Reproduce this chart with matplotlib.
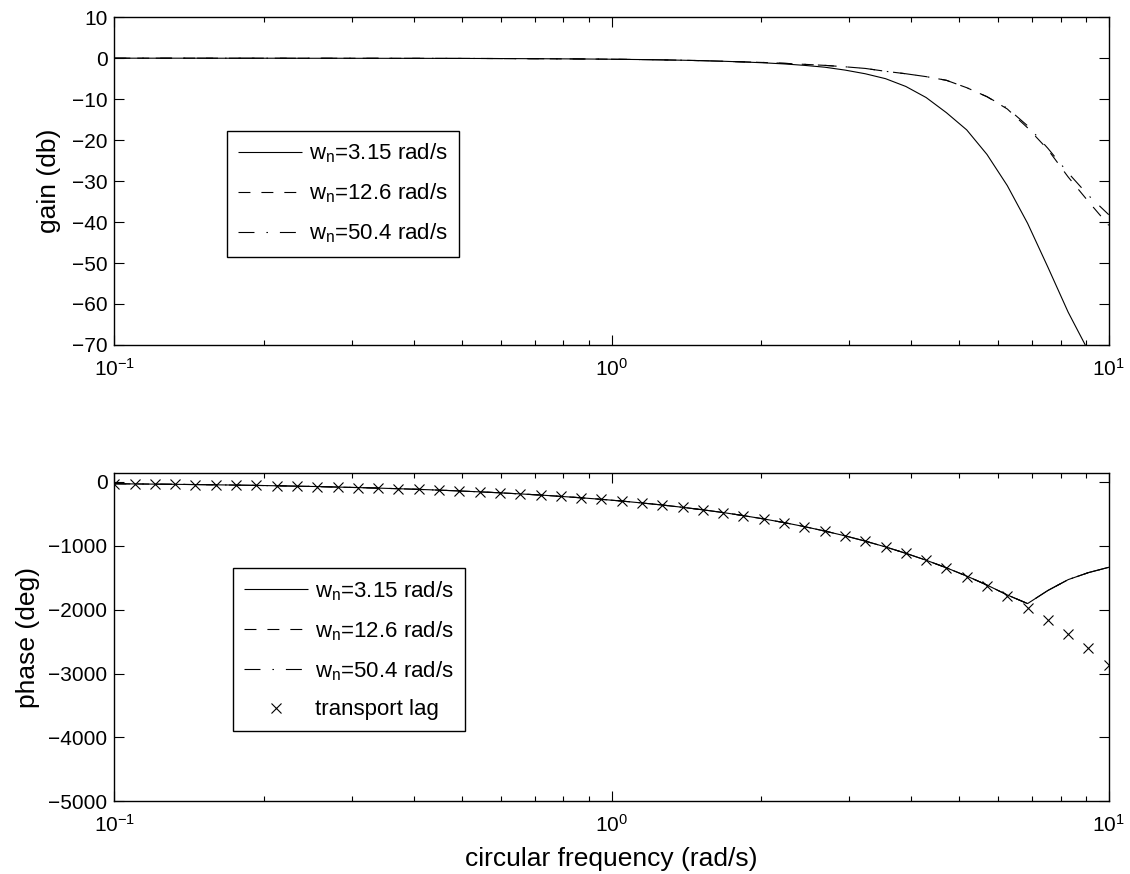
#!/usr/bin/env python

"""
Bode plot of the second order system for three natural frequencies,
phase compared with a pure transport lag.
"""

import matplotlib
matplotlib.use('Agg')
import matplotlib.pyplot as plt

# frequency grid (rad/s), 50 log spaced points
freq = [0.1000, 0.1099, 0.1207, 0.1326, 0.1456, 0.1600, 0.1758, 0.1931,
        0.2121, 0.2330, 0.2560, 0.2812, 0.3089, 0.3393, 0.3728, 0.4095,
        0.4498, 0.4942, 0.5429, 0.5964, 0.6551, 0.7197, 0.7906, 0.8685,
        0.9541, 1.0481, 1.1514, 1.2649, 1.3895, 1.5264, 1.6768, 1.8421,
        2.0236, 2.2230, 2.4421, 2.6827, 2.9471, 3.2375, 3.5565, 3.9069,
        4.2919, 4.7149, 5.1795, 5.6899, 6.2506, 6.8665, 7.5431, 8.2864,
        9.1030, 10.000]

# gain (db)
gain_315 = [0.0, 0.0, 0.0, 0.0, 0.0, -0.01, -0.01, -0.01,
            -0.01, -0.02, -0.02, -0.02, -0.03, -0.03, -0.04, -0.04,
            -0.05, -0.06, -0.07, -0.09, -0.11, -0.13, -0.16, -0.19,
            -0.23, -0.28, -0.34, -0.41, -0.50, -0.61, -0.75, -0.92,
            -1.13, -1.40, -1.75, -2.2, -2.9, -3.8, -5.0, -6.9,
            -9.6, -13.3, -17.5, -23.5, -31.1, -40.3, -51.0, -62.0,
            -71.5, -84.0]
gain_126 = [0.0, 0.0, 0.0, 0.0, 0.0, -0.01, -0.01, -0.01,
            -0.01, -0.02, -0.02, -0.02, -0.03, -0.03, -0.04, -0.04,
            -0.05, -0.06, -0.07, -0.09, -0.11, -0.13, -0.16, -0.19,
            -0.23, -0.28, -0.34, -0.41, -0.50, -0.61, -0.75, -0.90,
            -1.05, -1.25, -1.5, -1.75, -2.1, -2.5, -3.2, -3.8,
            -4.5, -5.4, -7.2, -9.4, -12.4, -17.0, -22.3, -29.0,
            -35.0, -40.8]
gain_504 = [0.0, 0.0, 0.0, 0.0, 0.0, -0.01, -0.01, -0.01,
            -0.01, -0.02, -0.02, -0.02, -0.03, -0.03, -0.04, -0.04,
            -0.05, -0.06, -0.07, -0.09, -0.11, -0.13, -0.16, -0.19,
            -0.23, -0.28, -0.34, -0.41, -0.50, -0.61, -0.75, -0.90,
            -1.05, -1.25, -1.5, -1.75, -2.1, -2.5, -3.2, -3.8,
            -4.5, -5.4, -7.2, -9.4, -12.2, -16.5, -22.0, -28.0,
            -33.5, -38.2]

# phase (deg), the three curves lie on top of each other
phase_wn = [-29, -32, -35, -38, -42, -46, -50, -55,
            -61, -67, -73, -81, -89, -97, -107, -117,
            -129, -142, -156, -171, -188, -206, -227, -249,
            -273, -300, -330, -362, -398, -437, -480, -528,
            -580, -637, -700, -769, -844, -927, -1018, -1118,
            -1226, -1345, -1474, -1615, -1770, -1905, -1700, -1530,
            -1420, -1337]
transport_lag = [-29, -31, -35, -38, -42, -46, -50, -55,
                 -61, -67, -73, -81, -88, -97, -107, -117,
                 -129, -142, -156, -171, -188, -206, -227, -249,
                 -273, -300, -330, -362, -398, -437, -480, -528,
                 -580, -637, -700, -769, -844, -928, -1019, -1119,
                 -1230, -1351, -1484, -1630, -1791, -1967, -2161, -2374,
                 -2608, -2865]

labels = ['w$_{n}$=3.15 rad/s', 'w$_{n}$=12.6 rad/s', 'w$_{n}$=50.4 rad/s']
styles = [(0, ()), (0, (8.6, 7.9)), (0, (11.5, 8.6, 1.1, 8.6))]

gain_ticks = [10, 0, -10, -20, -30, -40, -50, -60, -70]
phase_ticks = [0, -1000, -2000, -3000, -4000, -5000]


def style_axis(ax):
    """ matlab looking axis """
    ax.set_xscale('log')
    ax.set_xlim(0.1, 10)
    ax.tick_params(which='both', direction='in', top=True, right=True,
                   width=0.8, labelsize=15)
    ax.tick_params(axis='x', which='major', length=7, pad=9)
    ax.tick_params(axis='y', which='major', length=7, pad=5)
    ax.tick_params(which='minor', length=3.6)
    for spine in ax.spines.values():
        spine.set_linewidth(1.0)


def make_legend(ax, anchor):
    """ boxed legend like matlab """
    leg = ax.legend(loc='upper left', bbox_to_anchor=anchor, fontsize=16,
                    fancybox=False, edgecolor='black', framealpha=1,
                    handlelength=2.9, handletextpad=0.3, borderpad=0.5,
                    labelspacing=0.74, borderaxespad=0)
    leg.get_frame().set_linewidth(1.0)
    return leg


def main():
    """ main body """
    plt.rcParams['font.family'] = ['Liberation Sans', 'DejaVu Sans']
    plt.rcParams['mathtext.fontset'] = 'custom'
    plt.rcParams['mathtext.rm'] = 'Liberation Sans'
    plt.rcParams['mathtext.it'] = 'Liberation Sans'
    plt.rcParams['mathtext.default'] = 'regular'
    plt.rcParams['lines.scale_dashes'] = False

    fig = plt.figure(figsize=(11.3, 8.74), dpi=100)
    ax1 = fig.add_axes([0.1012, 0.6053, 0.8800, 0.3750])
    ax2 = fig.add_axes([0.1012, 0.0832, 0.8800, 0.3753])

    # gain
    for gain, label, ls in zip([gain_315, gain_126, gain_504], labels, styles):
        ax1.plot(freq, gain, color='black', linewidth=0.8, linestyle=ls,
                 label=label)
    style_axis(ax1)
    ax1.set_ylim(-70, 10)
    ax1.set_yticks(gain_ticks)
    ax1.set_ylabel('gain (db)', fontsize=19, labelpad=8)
    make_legend(ax1, (0.113, 0.654))

    # phase
    for label, ls in zip(labels, styles):
        ax2.plot(freq, phase_wn, color='black', linewidth=0.8, linestyle=ls,
                 label=label)
    ax2.plot(freq, transport_lag, 'x', color='black', markersize=6.5,
             markeredgewidth=0.8, label='transport lag')
    style_axis(ax2)
    ax2.set_ylim(-5000, 135)
    ax2.set_yticks(phase_ticks)
    ax2.set_ylabel('phase (deg)', fontsize=19, labelpad=6)
    ax2.set_xlabel('circular frequency (rad/s)', fontsize=19, labelpad=8)
    make_legend(ax2, (0.119, 0.711))

    fig.savefig('out.png', dpi=100)


if __name__ == "__main__":
    main()
